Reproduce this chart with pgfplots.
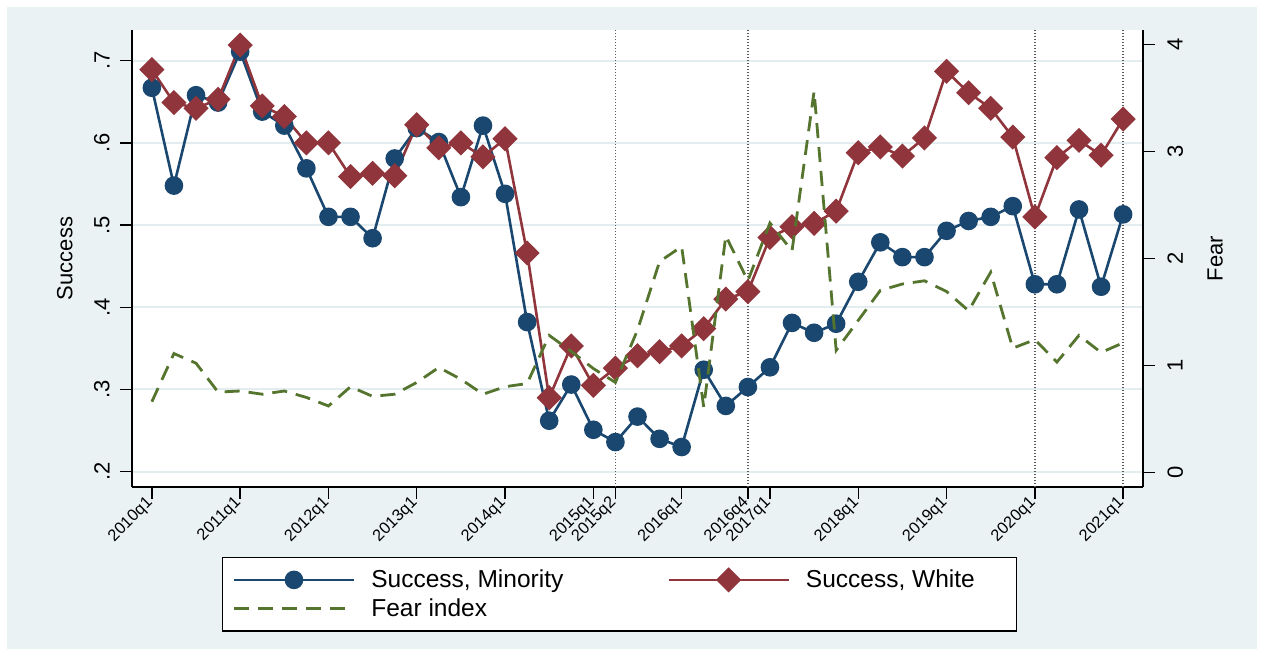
\documentclass[border=0pt]{standalone}
\usepackage{pgfplots}
\pgfplotsset{compat=1.18}
\usepackage{pgfplotstable}
\usepackage{fontspec}
\setmainfont{Liberation Sans}

\definecolor{bgc}{HTML}{EAF2F3}
\definecolor{gridc}{HTML}{E3ECEF}
\definecolor{navyc}{HTML}{1A476F}
\definecolor{maroonc}{HTML}{90353B}
\definecolor{forestc}{HTML}{55752F}

% quarter index (0 = 2010q1), success rates and fear index
\pgfplotstableread{
q minority white fear
0  0.667 0.689 0.66
1  0.548 0.649 1.11
2  0.658 0.642 1.02
3  0.649 0.653 0.75
4  0.711 0.719 0.76
5  0.638 0.645 0.73
6  0.621 0.632 0.76
7  0.569 0.600 0.70
8  0.510 0.600 0.62
9  0.510 0.559 0.80
10 0.484 0.563 0.71
11 0.581 0.560 0.73
12 0.618 0.622 0.84
13 0.601 0.594 0.98
14 0.534 0.600 0.87
15 0.621 0.583 0.73
16 0.538 0.605 0.80
17 0.382 0.466 0.83
18 0.262 0.290 1.28
19 0.306 0.353 1.13
20 0.251 0.305 0.97
21 0.236 0.326 0.84
22 0.267 0.341 1.33
23 0.240 0.346 1.97
24 0.230 0.353 2.11
25 0.324 0.374 0.61
26 0.280 0.410 2.21
27 0.303 0.419 1.79
28 0.327 0.485 2.33
29 0.381 0.498 2.07
30 0.369 0.502 3.56
31 0.380 0.517 1.14
32 0.431 0.588 1.42
33 0.479 0.595 1.70
34 0.461 0.584 1.76
35 0.461 0.606 1.79
36 0.493 0.687 1.69
37 0.505 0.661 1.51
38 0.510 0.642 1.87
39 0.523 0.607 1.16
40 0.428 0.510 1.24
41 0.428 0.582 1.03
42 0.519 0.603 1.28
43 0.425 0.585 1.12
44 0.513 0.629 1.21
}\quarterly

\pgfplotsset{
  base/.style={
    scale only axis, width=505.5pt, height=228.5pt,
    at={(0,0)}, anchor=south west,
    xmin=-0.9, xmax=44.9,
    tick align=outside, major tick length=6pt,
    every tick/.style={black, line width=0.7pt},
    axis line style={black, line width=0.7pt},
  },
  minority/.style={navyc, line width=1.3pt, mark=*, mark size=4pt,
    mark options={solid, fill=navyc, draw=navyc}},
  white/.style={maroonc, line width=1.3pt, mark=square*, mark size=3.8pt,
    mark options={solid, rotate=45, fill=maroonc, draw=maroonc}},
  fearline/.style={forestc, line width=1.4pt, dash pattern=on 7.5pt off 4.5pt},
}

\begin{document}
\begin{tikzpicture}
% page and plot region backgrounds
\fill[white] (-66pt,-84.5pt) rectangle (566pt,243.5pt);
\fill[bgc] (-62.5pt,-81pt) rectangle (562.5pt,240pt);
\fill[white] (0,0) rectangle (505.5pt,228.5pt);

\begin{axis}[base,
  axis x line*=bottom, axis y line*=left,
  ymin=0.1814, ymax=0.7373,
  ytick={0.2,0.3,0.4,0.5,0.6,0.7},
  yticklabels={.2,.3,.4,.5,.6,.7},
  yticklabel style={rotate=90, anchor=south, inner sep=0pt,
    font=\fontsize{11}{12}\selectfont},
  yticklabel shift=5pt,
  xtick={0,4,8,12,16,20,21,24,27,28,32,36,40,44},
  xticklabels={2010q1,2011q1,2012q1,2013q1,2014q1,2015q1,2015q2,2016q1,2016q4,2017q1,2018q1,2019q1,2020q1,2021q1},
  xticklabel style={rotate=45, anchor=east, inner sep=1pt,
    font=\fontsize{8.2}{9}\selectfont},
  ymajorgrids, major grid style={gridc, line width=1pt},
  ylabel={Success},
  every axis y label/.style={at={(axis description cs:-0.0584,0.5)},
    rotate=90, anchor=south, inner sep=0pt, font=\fontsize{11}{12}\selectfont},
]
% event markers
\foreach \e in {21,27,40,44} {
  \edef\tmp{\noexpand\addplot[forget plot, black!65, line width=0.9pt,
    dash pattern=on 0.6pt off 0.9pt] coordinates {(\e,0.1814) (\e,0.7373)};}
  \tmp
}
\addplot[minority] table[x=q, y=minority] {\quarterly};
\addplot[white] table[x=q, y=white] {\quarterly};
\end{axis}

\begin{axis}[base,
  axis x line=none, axis y line*=right,
  ymin=-0.137, ymax=4.134,
  ytick={0,1,2,3,4}, yticklabels={0,1,2,3,4},
  yticklabel style={rotate=90, anchor=north, inner sep=0pt,
    font=\fontsize{11}{12}\selectfont},
  yticklabel shift=6pt,
  ylabel={Fear},
  every axis y label/.style={at={(axis description cs:1.0633,0.5)},
    rotate=90, anchor=north, inner sep=0pt, font=\fontsize{11}{12}\selectfont},
  legend columns=2,
  legend style={at={(0.089,-0.153)}, anchor=north west, draw=black,
    line width=0.6pt, fill=white, inner xsep=5pt, inner ysep=4pt,
    font=\fontsize{12.25}{14.5}\selectfont, cells={anchor=west},
    /tikz/column 1/.style={column sep=6pt},
    /tikz/column 2/.style={column sep=50pt},
    /tikz/column 3/.style={column sep=6pt}},
  legend image code/.code={\draw[mark repeat=2, mark phase=2, #1]
    plot coordinates {(0pt,0pt) (30pt,0pt) (60pt,0pt)};},
]
\addlegendimage{minority}
\addlegendentry{Success, Minority}
\addlegendimage{white}
\addlegendentry{Success, White\rule{14pt}{0pt}}
\addplot[fearline] table[x=q, y=fear] {\quarterly};
\addlegendentry{Fear index}
\end{axis}

\pgfresetboundingbox
\path (-66pt,-84.5pt) rectangle (566pt,243.5pt);
\end{tikzpicture}
\end{document}
